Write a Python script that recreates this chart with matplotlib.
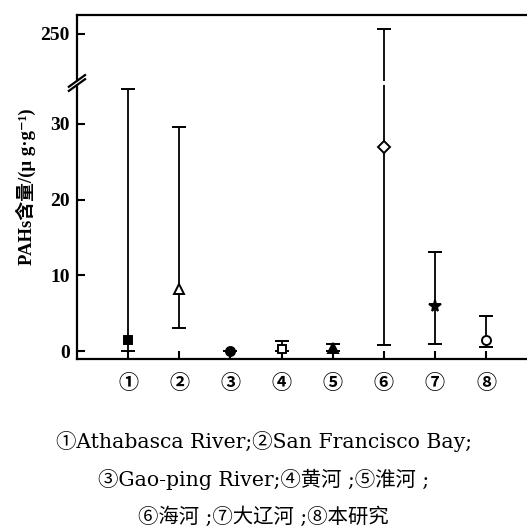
import matplotlib
matplotlib.use('Agg')
import matplotlib.pyplot as plt
import numpy as np
from matplotlib import transforms

### Data
site_labels = ['①', '②', '③', '④', '⑤', '⑥', '⑦', '⑧']
means = [1.4, 8.2, 0.05, 0.2, 0.35, 27.0, 6.0, 1.45]
lows = [0.05, 3.0, 0.05, 0.0, 0.0, 0.75, 0.9, 0.57]
highs = [34.6, 29.6, 0.05, 1.35, 0.95, 253.0, 13.1, 4.6]
markers = ['s', '^', 'o', 's', '^', 'D', '*', 'o']
filled = [True, False, True, False, True, False, True, False]
msizes = [6, 7, 6.5, 5.5, 7, 6.5, 8.5, 6.5]
yticks = [0, 10, 20, 30, 250]
caption = ['①Athabasca River;②San Francisco Bay;',
           '③Gao-ping River;④黄河 ;⑤淮河 ;',
           '⑥海河 ;⑦大辽河 ;⑧本研究']

### Broken y scale: linear up to LOW_TOP, compressed above HIGH_BOTTOM
LOW_TOP = 35.4
HIGH_BOTTOM = 220.6
K = 0.2202


def fwd(v):
    v = np.asarray(v, dtype=float)
    return np.where(v <= LOW_TOP, v,
                    np.where(v >= HIGH_BOTTOM, LOW_TOP + (v - HIGH_BOTTOM) * K, LOW_TOP))


def inv(t):
    t = np.asarray(t, dtype=float)
    return np.where(t <= LOW_TOP, t, HIGH_BOTTOM + (t - LOW_TOP) / K)


serif = ['Liberation Serif', 'Noto Sans CJK SC', 'DejaVu Serif']

fig = plt.figure(figsize=(5.27, 5.28), dpi=100)
ax = fig.add_axes([0.146, 0.320, 0.854, 0.652])
ax.set_yscale('function', functions=(fwd, inv))

x = np.arange(1, len(means) + 1)
for xi, m, lo, hi, mk, f, ms in zip(x, means, lows, highs, markers, filled, msizes):
    ax.errorbar([xi], [m], yerr=[[m - lo], [hi - m]], fmt=mk, color='black',
                mfc='black' if f else 'white', mec='black', mew=1.4, ms=ms,
                elinewidth=1.3, capsize=5, capthick=1.3, zorder=3)

ylo, yhi = -1.06, 261.5
ax.set_ylim(ylo, yhi)
ax.set_xlim(0, 8.8)

# gap in the long error bar + break marks on the y spine
yb = (fwd(LOW_TOP) - fwd(ylo)) / (fwd(yhi) - fwd(ylo))
blend = transforms.blended_transform_factory(ax.transData, ax.transAxes)
ax.plot([6, 6], [yb - 0.007, yb + 0.007], color='white', lw=3, solid_capstyle='butt',
        transform=blend, zorder=5)
ax.fill([-0.017, 0.017, 0.017, -0.017], [yb - 0.022, yb + 0.012, yb + 0.022, yb - 0.012],
        color='white', transform=ax.transAxes, clip_on=False, zorder=6)
for off in (-0.006, 0.006):
    ax.plot([-0.018, 0.018], [yb - 0.017 + off, yb + 0.017 + off], color='black', lw=1.6,
            transform=ax.transAxes, clip_on=False, zorder=7)

ax.set_yticks(yticks)
ax.set_yticklabels([str(t) for t in yticks])
ax.set_xticks(x)
ax.set_xticklabels(site_labels)
ax.minorticks_off()
ax.tick_params(axis='both', direction='in', width=1.5, length=6)
ax.tick_params(axis='y', pad=5)
ax.tick_params(axis='x', pad=9)
for lab in ax.get_yticklabels():
    lab.set_fontfamily(serif)
    lab.set_fontweight('bold')
    lab.set_fontsize(14)
for lab in ax.get_xticklabels():
    lab.set_fontfamily(['Noto Sans CJK SC', 'DejaVu Sans'])
    lab.set_fontweight('bold')
    lab.set_fontsize(14.5)

for s in ['left', 'bottom', 'top']:
    ax.spines[s].set_linewidth(1.6)
ax.spines['right'].set_visible(False)

ax.set_ylabel('PAHs含量/(μ g·g⁻¹)', family=serif, fontweight='bold', fontsize=13.5, labelpad=3)

for i, line in enumerate(caption):
    fig.text(0.5, 1 - (442 + 37.5 * i) / 528, line, ha='center', va='center',
             family=['DejaVu Serif', 'Noto Sans CJK SC'], fontsize=14.7)

plt.savefig('out.png', dpi=100)
